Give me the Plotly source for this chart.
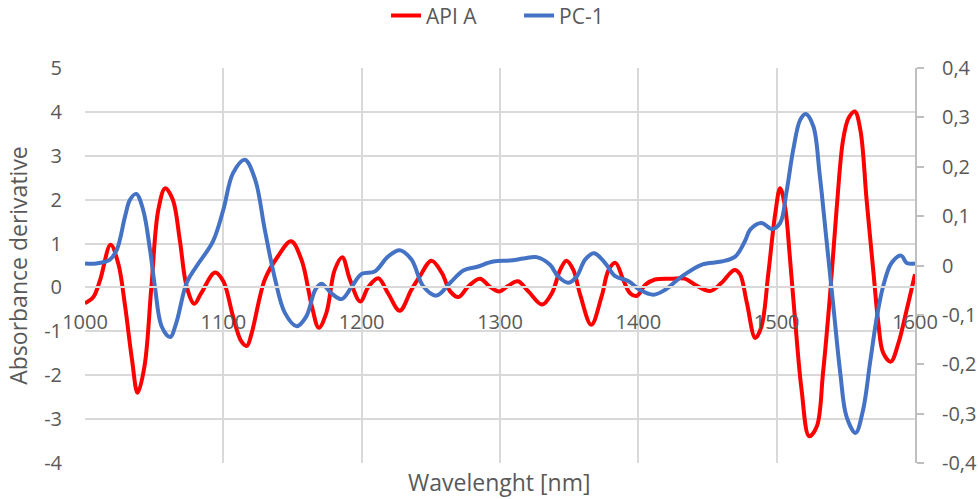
import plotly.graph_objects as go

# Second-derivative NIR spectrum of API A (left axis) and the PC-1 loading (right axis)
wl_api = [1000, 1006, 1011, 1018.5, 1024, 1029, 1034, 1038, 1043, 1048, 1053, 1058,
          1063.5, 1068.5, 1073.5, 1079, 1084, 1094, 1100, 1107, 1113, 1117, 1120.5,
          1130, 1139.5, 1149, 1156.5, 1164, 1169, 1174.5, 1180.5, 1186, 1191.5, 1199,
          1205, 1212, 1219, 1227.5, 1236, 1242, 1250.5, 1258, 1264, 1270, 1277, 1285.5,
          1292.5, 1299.5, 1306, 1313, 1320.5, 1330.5, 1337.5, 1343.5, 1348, 1353, 1358,
          1366, 1373.5, 1378.5, 1383.5, 1389, 1394, 1399, 1405, 1412, 1424, 1433.5,
          1441, 1452, 1460, 1469.5, 1473.5, 1478.5, 1484.5, 1489, 1494, 1499, 1502.5,
          1506, 1509.5, 1513.5, 1518, 1523.5, 1529, 1533.5, 1538.5, 1543.5, 1548, 1552,
          1556.5, 1560.5, 1565, 1570, 1573.5, 1577, 1582.5, 1588, 1594, 1600]
api_a = [-0.36, -0.22, 0.18, 0.97, 0.55, -0.43, -1.65, -2.4, -1.8, 0.02, 1.77, 2.26,
         2.0, 1.09, 0.02, -0.37, -0.13, 0.34, 0.14, -0.66, -1.23, -1.33, -1.04,
         0.18, 0.71, 1.05, 0.63, -0.43, -0.92, -0.58, 0.4, 0.69, 0.18, -0.32,
         0.02, 0.21, -0.13, -0.53, -0.05, 0.25, 0.61, 0.33, -0.09, -0.22, 0.02, 0.2,
         0.02, -0.09, 0.04, 0.14, -0.09, -0.39, -0.13, 0.4, 0.61, 0.4, -0.17,
         -0.85, -0.2, 0.4, 0.56, 0.18, -0.13, -0.19, 0.06, 0.18, 0.2, 0.2,
         0.06, -0.08, 0.1, 0.4, 0.3, -0.36, -1.15, -0.89, 0.33, 1.69, 2.26,
         1.85, 0.71, -0.81, -2.33, -3.39, -3.17, -1.95, -0.2, 1.85, 3.36, 3.86,
         4.01, 3.59, 2.0, 0.33, -0.81, -1.49, -1.69, -1.27, -0.51, 0.3]

wl_pc = [1000, 1008, 1018, 1023, 1029, 1032.5, 1037, 1042, 1047, 1050.5, 1055.5, 1061.5,
         1066, 1073.5, 1080.5, 1092.5, 1100, 1107, 1115.5, 1123, 1130, 1137.5, 1144.5,
         1153, 1160, 1166.5, 1171, 1178, 1185.5, 1193, 1200, 1209.5, 1219, 1227.5, 1236,
         1244.5, 1254, 1264, 1273.5, 1283, 1295, 1307, 1317, 1326.5, 1336, 1342, 1349.5,
         1355.5, 1361.5, 1368, 1376, 1383, 1393, 1401, 1411, 1419.5, 1431.5, 1446, 1460,
         1470, 1477, 1481, 1489, 1496.5, 1502.5, 1507, 1512, 1517, 1521, 1526.5, 1531,
         1536, 1541, 1546, 1550.5, 1557, 1562.5, 1567.5, 1572.5, 1577, 1583, 1590, 1594,
         1600]
pc_1 = [0.004, 0.004, 0.012, 0.032, 0.1, 0.133, 0.145, 0.113, 0.032, -0.042, -0.124, -0.145,
        -0.116, -0.035, -0.002, 0.049, 0.113, 0.187, 0.214, 0.174, 0.072, -0.029, -0.096,
        -0.123, -0.103, -0.049, -0.037, -0.056, -0.068, -0.042, -0.017, -0.012, 0.018, 0.031, 0.012,
        -0.042, -0.061, -0.035, -0.01, -0.003, 0.008, 0.01, 0.014, 0.017, 0.002, -0.022, -0.035,
        -0.022, 0.012, 0.025, 0.005, -0.021, -0.032, -0.049, -0.059, -0.049, -0.022, 0.002, 0.008,
        0.018, 0.049, 0.073, 0.086, 0.074, 0.086, 0.147, 0.235, 0.295, 0.307, 0.282, 0.187,
        0.052, -0.083, -0.218, -0.306, -0.339, -0.292, -0.197, -0.103, -0.042, 0.005, 0.02, 0.005,
        0.004]

x_ticks = [1000, 1100, 1200, 1300, 1400, 1500, 1600]
y_left_ticks = [-4, -3, -2, -1, 0, 1, 2, 3, 4, 5]
y_left_text = ["-4", "-3", "-2", "-1", "0", "1", "2", "3", "4", "5"]
y_right_ticks = [-0.4, -0.3, -0.2, -0.1, 0, 0.1, 0.2, 0.3, 0.4]
y_right_text = ["-0,4", "-0,3", "-0,2", "-0,1", "0", "0,1", "0,2", "0,3", "0,4"]

FONT = "Open Sans"
TXT = "#595959"
GRID = "#D9D9D9"
TICK_SIZE = 20
TITLE_SIZE = 23

fig = go.Figure()
fig.add_trace(go.Scatter(x=wl_api, y=api_a, name="API A", mode="lines",
                         line=dict(color="#FF0000", width=4, shape="spline", smoothing=1),
                         yaxis="y"))
fig.add_trace(go.Scatter(x=wl_pc, y=pc_1, name="PC-1", mode="lines",
                         line=dict(color="#4472C4", width=4, shape="spline", smoothing=1),
                         yaxis="y2"))

fig.update_layout(
    width=978, height=499,
    margin=dict(l=85, r=63, t=68, b=36, autoexpand=False),
    paper_bgcolor="white", plot_bgcolor="white",
    font=dict(family=FONT, size=TICK_SIZE, color=TXT),
    showlegend=True,
    legend=dict(orientation="h", x=0.3627, xanchor="left", y=1.132, yanchor="middle",
                entrywidth=88, entrywidthmode="pixels",
                font=dict(size=21, color=TXT), tracegroupgap=0),
    xaxis=dict(range=[1000, 1600], tickvals=x_ticks, showgrid=True, gridcolor=GRID,
               gridwidth=2, zeroline=False, anchor="free", position=4 / 9,
               showline=True, linecolor=GRID, linewidth=2, ticks="", automargin=False,
               ticklabelstandoff=17, tickfont=dict(size=TICK_SIZE, color=TXT)),
    yaxis=dict(range=[-4, 5], tickvals=y_left_ticks, ticktext=y_left_text,
               showgrid=True, gridcolor=GRID, gridwidth=2, zeroline=False,
               showline=False, ticks="", ticklabelstandoff=22, automargin=False,
               tickfont=dict(size=TICK_SIZE, color=TXT),
               title=dict(text="Absorbance derivative", font=dict(size=TITLE_SIZE, color=TXT),
                          standoff=10)),
    yaxis2=dict(range=[-0.4, 0.4], tickvals=y_right_ticks, ticktext=y_right_text,
                overlaying="y", side="right", showgrid=False, zeroline=False,
                showline=True, linecolor="#BFBFBF", linewidth=2, automargin=False,
                ticks="outside", ticklen=7, tickcolor="#BFBFBF", tickwidth=2,
                ticklabelstandoff=14, tickfont=dict(size=TICK_SIZE, color=TXT)),
    annotations=[dict(text="Wavelenght [nm]", x=0.499, y=-0.049, xref="paper", yref="paper",
                      xanchor="center", yanchor="middle", showarrow=False,
                      font=dict(size=TITLE_SIZE, color=TXT))],
)

fig.write_html("out.html")
